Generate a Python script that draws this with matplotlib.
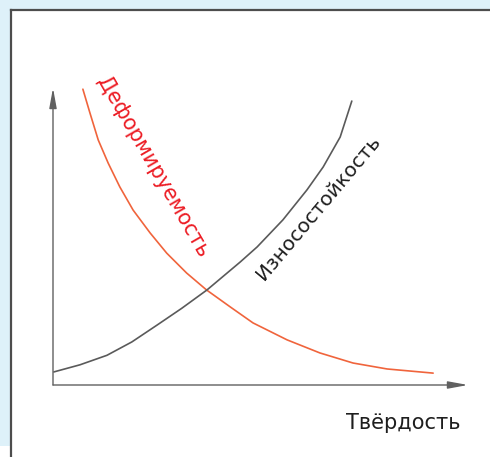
import matplotlib.pyplot as plt
from matplotlib.patches import Rectangle

# (hardness on x, 0..10; property on y, 0..10)
hard_deform = [0.72, 0.89, 1.09, 1.33, 1.61, 1.93, 2.34, 2.74, 3.22, 3.70, 4.27, 4.82,
               5.64, 6.43, 7.23, 8.05, 9.16]
deform = [9.96, 9.16, 8.25, 7.47, 6.67, 5.89, 5.12, 4.44, 3.77, 3.20, 2.63, 2.09,
          1.52, 1.08, 0.74, 0.54, 0.40]

hard_wear = [0.02, 0.65, 1.30, 1.90, 2.51, 3.10, 3.71, 4.51, 4.92, 5.54, 6.12, 6.51, 6.92, 7.20]
wear = [0.44, 0.68, 1.00, 1.45, 2.02, 2.58, 3.20, 4.14, 4.65, 5.56, 6.57, 7.34, 8.35, 9.56]

label_deform = 'Деформируемость'
label_wear = 'Износостойкость'
label_x = 'Твёрдость'


def main():
    fig = plt.figure(figsize=(4.9, 4.57), dpi=100)
    fig.patch.set_facecolor('#def1f9')

    # white panel with dark border on top/left
    W, H = 490.0, 457.0
    fig.add_artist(Rectangle((11 / W, 0), 1, (H - 10) / H, transform=fig.transFigure,
                             facecolor='white', edgecolor='none', zorder=-2))
    fig.add_artist(Rectangle((0, 0), 11 / W, (H - 446) / H, transform=fig.transFigure,
                             facecolor='white', edgecolor='none', zorder=-2))
    fig.add_artist(plt.Line2D([11 / W, 1], [(H - 10) / H] * 2, transform=fig.transFigure,
                              color='#4d4d4d', lw=1.6, zorder=-1))
    fig.add_artist(plt.Line2D([11 / W] * 2, [0, (H - 10) / H], transform=fig.transFigure,
                              color='#4d4d4d', lw=1.6, zorder=-1))

    ax = fig.add_axes([53 / W, (H - 385) / H, 415 / W, 297 / H])
    ax.set_zorder(5)
    ax.patch.set_alpha(0)
    ax.set_xlim(0, 10)
    ax.set_ylim(0, 10)
    ax.axis('off')

    ax.plot(hard_deform, deform, color='#f0643c', lw=1.2, solid_capstyle='round',
            solid_joinstyle='round')
    ax.plot(hard_wear, wear, color='#5a5a5a', lw=1.2, solid_capstyle='round',
            solid_joinstyle='round')

    # axes with arrows
    arrow = dict(arrowstyle='-|>,head_length=1.2,head_width=0.22', color='#606060',
                 lw=1.0, shrinkA=0, shrinkB=0)
    ax.annotate('', xy=(0, 1), xytext=(0, 0), xycoords='axes fraction', arrowprops=arrow)
    ax.annotate('', xy=(1, 0), xytext=(0, 0), xycoords='axes fraction', arrowprops=arrow)

    ax.text(0.241, 0.734, label_deform, transform=ax.transAxes, rotation=-60,
            rotation_mode='anchor', ha='center', va='center', fontsize=15,
            color='#ec1c24', family='DejaVu Sans')
    ax.text(0.639, 0.596, label_wear, transform=ax.transAxes, rotation=50,
            rotation_mode='anchor', ha='center', va='center', fontsize=14.5,
            color='#1e1e1e', family='DejaVu Sans')
    ax.text(0.843, -0.128, label_x, transform=ax.transAxes, ha='center', va='center',
            fontsize=15, color='#1e1e1e', family='DejaVu Sans', clip_on=False)

    fig.savefig('out.png', dpi=100, facecolor=fig.get_facecolor())


if __name__ == "__main__":
    main()
